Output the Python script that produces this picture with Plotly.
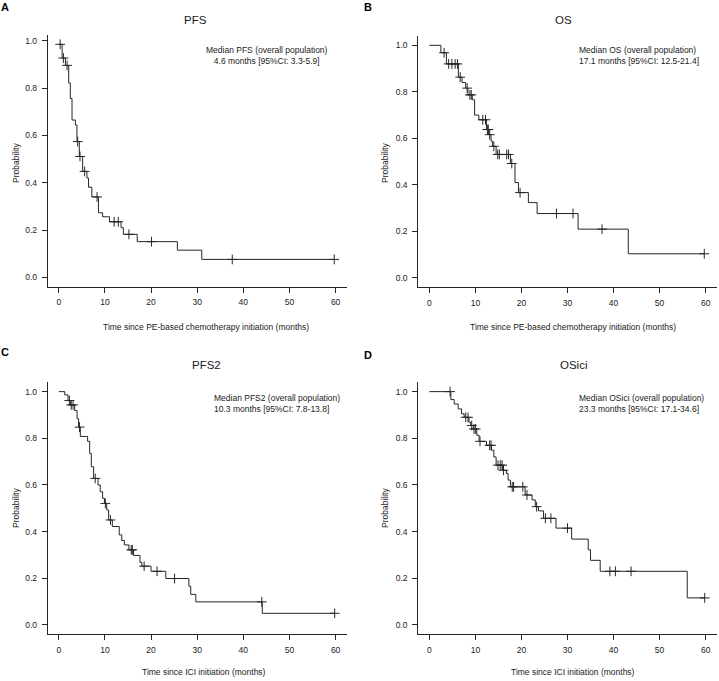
import numpy as np
import plotly.graph_objects as go

W, H = 719, 681

# ---------------- data ----------------
pfs_start = 0.985
pfs_t = [0.73, 1.44, 2.15, 2.5, 2.87, 3.6, 3.94, 4.45, 5.17, 6.1, 6.45, 7.17, 8.6, 9.5, 11.0, 13.5, 14.0, 17.0, 25.7, 31.0]
pfs_s = [0.927, 0.896, 0.822, 0.756, 0.665, 0.644, 0.574, 0.511, 0.448, 0.42, 0.381, 0.34, 0.273, 0.256, 0.235, 0.21, 0.182, 0.151, 0.115, 0.076]
pfs_c = [0.3, 1.0, 1.8, 4.1, 4.6, 5.6, 8.3, 12.0, 12.9, 15.2, 20.1, 37.6, 59.7]

os_start = 1.0
os_t = [2.5, 3.7, 6.3, 7.1, 7.9, 8.37, 9.33, 9.83, 10.75, 12.4, 12.9, 13.4, 13.7, 14.5, 17.6, 18.6, 19.35, 21.5, 23.4, 32.3, 43.2]
os_s = [0.968, 0.92, 0.863, 0.84, 0.816, 0.787, 0.766, 0.70, 0.68, 0.638, 0.616, 0.588, 0.566, 0.531, 0.492, 0.41, 0.367, 0.324, 0.277, 0.21, 0.104]
os_c = [3.2, 4.2, 4.9, 5.6, 6.1, 6.7, 8.2, 8.8, 9.1, 11.6, 12.2, 12.6, 12.8, 13.1, 14.0, 14.85, 15.2, 16.8, 17.2, 17.9, 19.7, 27.6, 31.2, 37.5, 59.7]

pfs2_start = 1.0
pfs2_t = [1.3, 2.0, 2.5, 3.45, 3.96, 4.3, 4.67, 6.25, 6.7, 7.05, 7.55, 8.5, 8.98, 9.5, 9.9, 10.4, 10.8, 11.6, 13.1, 13.65, 14.2, 15.2, 16.2, 17.6, 18.0, 20.0, 23.2, 28.2, 28.6, 29.7, 44.1]
pfs2_s = [0.986, 0.962, 0.943, 0.919, 0.884, 0.848, 0.808, 0.787, 0.735, 0.678, 0.628, 0.60, 0.571, 0.543, 0.521, 0.493, 0.45, 0.422, 0.386, 0.362, 0.343, 0.322, 0.298, 0.268, 0.252, 0.23, 0.199, 0.166, 0.131, 0.099, 0.05]
pfs2_c = [2.3, 2.7, 3.1, 4.5, 7.9, 10.1, 11.2, 15.7, 15.95, 18.5, 21.3, 25.1, 44.0, 59.8]

osici_start = 1.0
osici_t = [4.67, 5.4, 6.25, 7.0, 7.55, 8.6, 8.98, 9.55, 10.3, 10.8, 12.4, 13.5, 14.0, 14.5, 15.9, 16.75, 17.1, 17.6, 20.8, 22.3, 23.0, 23.7, 24.8, 27.5, 30.9, 34.5, 35.0, 37.1, 56.0]
osici_s = [0.966, 0.947, 0.926, 0.905, 0.89, 0.869, 0.855, 0.84, 0.813, 0.787, 0.77, 0.749, 0.72, 0.685, 0.663, 0.649, 0.621, 0.592, 0.557, 0.536, 0.507, 0.489, 0.457, 0.415, 0.368, 0.322, 0.277, 0.23, 0.116]
osici_c = [4.5, 7.9, 8.4, 9.2, 9.7, 10.06, 11.0, 13.1, 13.4, 14.9, 15.4, 15.8, 16.1, 18.0, 18.3, 20.3, 21.2, 23.3, 25.2, 26.4, 30.0, 39.2, 40.4, 43.8, 59.8]

titles = ["PFS", "OS", "PFS2", "OSici"]
letters = ["A", "B", "C", "D"]
xlabels = ["Time since PE-based chemotherapy initiation (months)",
           "Time since PE-based chemotherapy initiation (months)",
           "Time since ICI initiation (months)",
           "Time since ICI initiation (months)"]
medians = ["Median PFS (overall population)<br>4.6 months [95%CI: 3.3-5.9]",
           "Median OS (overall population)<br>17.1 months [95%CI: 12.5-21.4]",
           "Median PFS2 (overall population)<br>10.3 months [95%CI: 7.8-13.8]",
           "Median OSici (overall population)<br>23.3 months [95%CI: 17.1-34.6]"]
x_ticks = [0, 10, 20, 30, 40, 50, 60]
y_ticks = [0.0, 0.2, 0.4, 0.6, 0.8, 1.0]

series = [(pfs_start, pfs_t, pfs_s, pfs_c),
          (os_start, os_t, os_s, os_c),
          (pfs2_start, pfs2_t, pfs2_s, pfs2_c),
          (osici_start, osici_t, osici_s, osici_c)]

# ---------------- layout geometry (pixels) ----------------
boxes = [(47.7, 346.7, 35.0, 286.7),
         (418.3, 716.7, 36.0, 287.3),
         (47.7, 346.7, 382.3, 634.3),
         (418.3, 716.7, 382.3, 634.3)]
yranges = [[-0.0394, 1.0244], [-0.04, 1.04], [-0.04, 1.04], [-0.04, 1.04]]

def px(x):
    return x / W

def py(y):
    return 1 - y / H

FONT = "Liberation Sans, Arial, Helvetica, sans-serif"
LINE = "#262626"
TXT = "#1a1a1a"

fig = go.Figure()
layout = dict(width=W, height=H, margin=dict(l=0, r=0, t=0, b=0),
              paper_bgcolor="white", plot_bgcolor="white", showlegend=False,
              font=dict(family=FONT, size=8.5, color=TXT))
annotations = []

for i, (s0, t, s, c) in enumerate(series):
    k = "" if i == 0 else str(i + 1)
    xa, ya = "x" + k, "y" + k
    tt = np.array([0.0] + list(t))
    ss = np.array([s0] + list(s))
    cc = np.array(c)
    idx = np.searchsorted(tt, cc, side="right") - 1
    cy = ss[idx]
    xend = max(cc.max(), tt.max())
    fig.add_trace(go.Scatter(x=list(tt) + [xend], y=list(ss) + [ss[-1]], mode="lines",
                             line=dict(color=LINE, width=1, shape="hv"),
                             xaxis=xa, yaxis=ya, hoverinfo="skip"))
    fig.add_trace(go.Scatter(x=cc, y=cy, mode="markers",
                             marker=dict(symbol="cross-thin", size=7,
                                         line=dict(color=LINE, width=1)),
                             xaxis=xa, yaxis=ya, hoverinfo="skip"))
    x0, x1, y0, y1 = boxes[i]
    axcommon = dict(showline=True, linecolor=LINE, linewidth=1, ticks="outside",
                    ticklen=5, tickwidth=1, tickcolor=LINE, showgrid=False,
                    zeroline=False, tickfont=dict(family=FONT, size=8.5, color=TXT))
    layout["xaxis" + k] = dict(axcommon, domain=[px(x0), px(x1)], range=[-2.4, 62.4],
                               anchor=ya, tickvals=x_ticks, ticklabelstandoff=2)
    layout["yaxis" + k] = dict(axcommon, domain=[py(y1), py(y0)], range=yranges[i],
                               anchor=xa, tickvals=y_ticks, tickformat=".1f",
                               ticklabelstandoff=3)

# text positions
title_pos = [(195.7, 20), (563, 20), (207, 365), (573, 365)]
letter_pos = [(5, 7), (368, 7), (5, 352), (368, 355)]
ylab_pos = [(16, 163), (385, 163), (16, 508), (385, 508)]
xlab_pos = [(205.7, 326.7), (573, 327), (204, 672), (573, 672)]
med_pos = [(266.7, 56, "center"), (577.3, 56, "left"), (212, 404, "left"), (577.3, 404, "left")]

for i in range(4):
    annotations.append(dict(text=titles[i], x=px(title_pos[i][0]), y=py(title_pos[i][1]),
                            xref="paper", yref="paper", showarrow=False,
                            xanchor="center", yanchor="middle",
                            font=dict(family=FONT, size=11.5, color=TXT)))
    annotations.append(dict(text="<b>" + letters[i] + "</b>", x=px(letter_pos[i][0]),
                            y=py(letter_pos[i][1]), xref="paper", yref="paper",
                            showarrow=False, xanchor="center", yanchor="middle",
                            font=dict(family=FONT, size=11, color="#000")))
    annotations.append(dict(text="Probability", x=px(ylab_pos[i][0]), y=py(ylab_pos[i][1]),
                            xref="paper", yref="paper", showarrow=False, textangle=-90,
                            xanchor="center", yanchor="middle",
                            font=dict(family=FONT, size=8.5, color=TXT)))
    annotations.append(dict(text=xlabels[i], x=px(xlab_pos[i][0]), y=py(xlab_pos[i][1]),
                            xref="paper", yref="paper", showarrow=False,
                            xanchor="center", yanchor="middle",
                            font=dict(family=FONT, size=8.5, color=TXT)))
    mx, my, al = med_pos[i]
    annotations.append(dict(text=medians[i], x=px(mx), y=py(my), xref="paper", yref="paper",
                            showarrow=False, xanchor=al, yanchor="middle", align=al,
                            font=dict(family=FONT, size=8.5, color=TXT)))

layout["annotations"] = annotations
fig.update_layout(**layout)
fig.write_html("out.html", config={"displayModeBar": False},
               post_script="document.body.style.margin='0px';document.body.style.overflow='hidden';")
